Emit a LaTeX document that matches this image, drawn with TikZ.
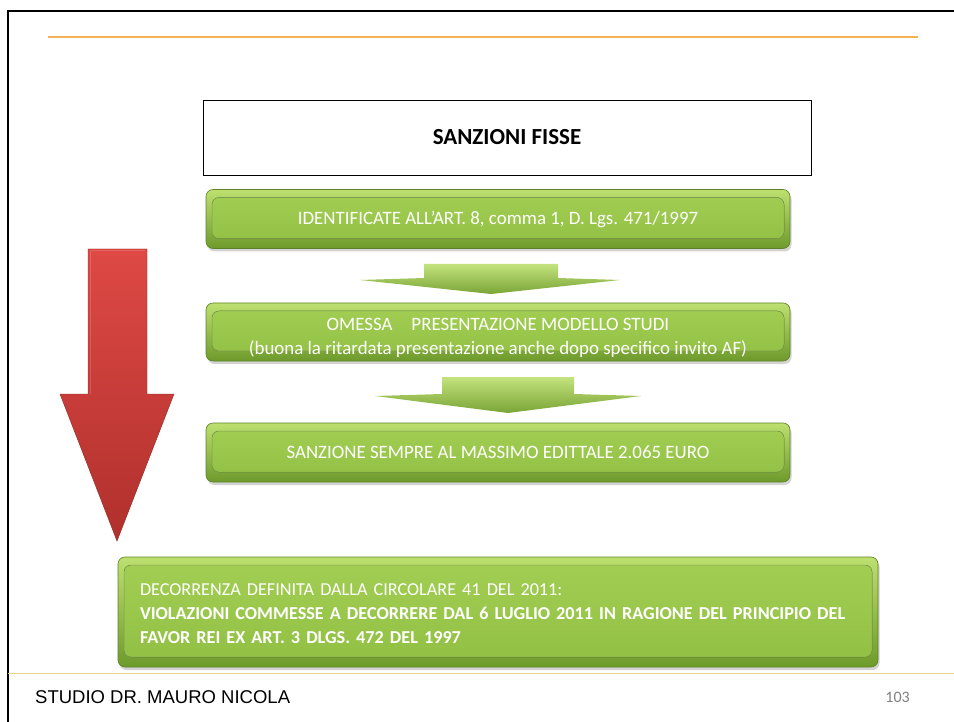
\documentclass[tikz,border=0pt]{standalone}
\usepackage{fontspec}
\setmainfont{Carlito}
\newfontfamily\footfont{Liberation Sans}
\usetikzlibrary{shadows}

\definecolor{greenhi}{HTML}{BDE070}
\definecolor{greenlo}{HTML}{6E9A2C}
\definecolor{greenin}{HTML}{9CCB4C}
\definecolor{greenedge}{HTML}{5E8226}
\definecolor{redhi}{HTML}{DE4945}
\definecolor{redlo}{HTML}{B0302C}
\definecolor{rule}{HTML}{F3B256}
\definecolor{footrule}{HTML}{EAD28F}

\tikzset{
  greenbox/.style={rounded corners=7pt, draw=greenedge, line width=0.6pt,
    top color=greenhi, bottom color=greenlo,
    drop shadow={shadow xshift=1.5pt, shadow yshift=-3pt, opacity=.35},
    text=white, font=\fontsize{18.9}{24}\selectfont,
    path picture={
      \fill[top color=greenin!80!greenhi, bottom color=greenin!75!greenlo, draw=greenedge!80, line width=0.5pt]
        ([xshift=6pt,yshift=-8pt]path picture bounding box.north west)
        rectangle ([xshift=-6pt,yshift=10pt]path picture bounding box.south east);
    }},
  greenarrow/.style={top color=greenhi!90!white, bottom color=greenlo!85!greenhi, draw=none},
  titlebox/.style={draw=black, line width=0.6pt, fill=white,
    font=\fontsize{23}{28}\selectfont\bfseries}
}

\begin{document}
\begin{tikzpicture}[x=1pt, y=-1pt]
  \useasboundingbox (0,0) rectangle (954,722);

  % page frame and rules
  \draw[line width=2.5pt] (8,723) -- (8,11) -- (955,11);
  \draw[rule, line width=2.5pt] (48,37) -- (918,37);
  \draw[footrule, line width=1pt] (8,673) -- (954,673);

  % red arrow on the left
  \shade[top color=redhi, bottom color=redlo, draw=redlo!80!black, line width=0.4pt]
    (88,249) -- (147,249) -- (147,394) -- (174,394) -- (117,541) -- (60,394) -- (88,394) -- cycle;
  \draw[white, opacity=.15, line width=1pt] (90,394) -- (90,251) -- (145,251);

  % boxes
  \node[titlebox, minimum width=608pt, minimum height=75pt] (title) at (507,137.5) {SANZIONI FISSE};
  \node[greenbox, minimum width=584pt, minimum height=59pt] (ident) at (498,219) {IDENTIFICATE ALL’ART. 8, comma 1, D. Lgs. 471/1997};
  \node[greenbox, minimum width=584pt, minimum height=58pt, align=center] (omessa) at (498,332)
    {\rule{0pt}{24pt}OMESSA\quad PRESENTAZIONE MODELLO STUDI\\(buona la ritardata presentazione anche dopo specifico invito AF)};
  \node[greenbox, minimum width=584pt, minimum height=59pt] (sanz) at (498,452.5) {SANZIONE SEMPRE AL MASSIMO EDITTALE 2.065 EURO};
  \node[greenbox, minimum width=760pt, minimum height=110pt, text width=716pt, align=left,
        inner xsep=22pt, font=\fontsize{18.2}{24}\selectfont] (decor) at (498,612)
    {\rule{0pt}{15pt}DECORRENZA DEFINITA DALLA CIRCOLARE 41 DEL 2011:\\
     \textbf{VIOLAZIONI COMMESSE A DECORRERE DAL 6 LUGLIO 2011 IN RAGIONE DEL PRINCIPIO DEL}\\
     \textbf{FAVOR REI EX ART. 3 DLGS. 472 DEL 1997}};

  % green arrows between the boxes
  \shade[greenarrow] (424,264) -- (558,264) -- (558,278) -- (620,280) -- (491,294) -- (360,280) -- (424,278) -- cycle;
  \shade[greenarrow] (442,377) -- (574,377) -- (574,394) -- (641,396) -- (508,413) -- (375,396) -- (442,394) -- cycle;

  % footer
  \node[anchor=west, font=\footfont\fontsize{18.5}{20}\selectfont, inner sep=0pt] (studio) at (35,697) {STUDIO DR. MAURO NICOLA};
  \node[anchor=east, text=black!50, font=\fontsize{16}{18}\selectfont, inner sep=0pt] (pagenum) at (910,697) {103};
\end{tikzpicture}
\end{document}
